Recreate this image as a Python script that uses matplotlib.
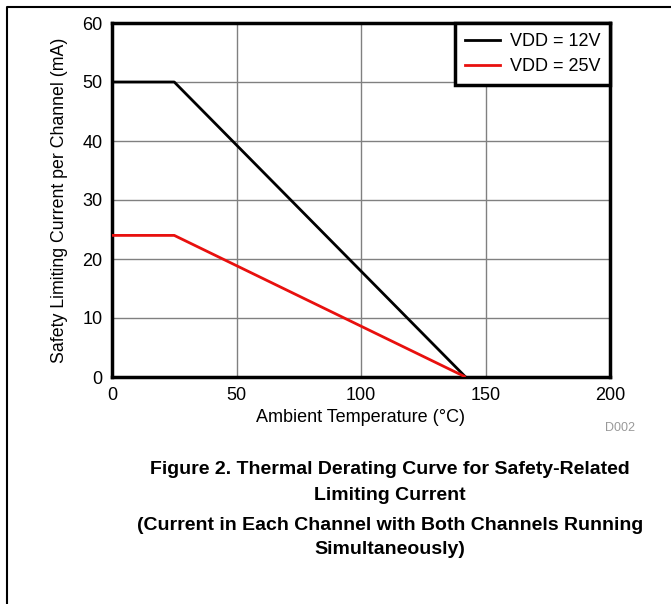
import matplotlib.pyplot as plt
from matplotlib.lines import Line2D

plt.rcParams['font.family'] = ['Liberation Sans', 'DejaVu Sans']

# Derating curves (temperature in degC, current in mA)
temp_12v = [0, 25, 142]
current_12v = [50, 50, 0]
temp_25v = [0, 25, 142]
current_25v = [24, 24, 0]

series_labels = ["VDD = 12V", "VDD = 25V"]
series_colors = ["black", "#e8100e"]

x_ticks = [0, 50, 100, 150, 200]
y_ticks = [0, 10, 20, 30, 40, 50, 60]

caption_lines = [
    "Figure 2. Thermal Derating Curve for Safety-Related",
    "Limiting Current",
    "(Current in Each Channel with Both Channels Running",
    "Simultaneously)",
]

fig = plt.figure(figsize=(6.71, 6.04), dpi=100)
ax = fig.add_axes([112 / 671, 1 - 377 / 604, (610 - 112) / 671, (377 - 23) / 604])

ax.plot(temp_12v, current_12v, color=series_colors[0], lw=2, solid_capstyle='butt', zorder=3)
ax.plot(temp_25v, current_25v, color=series_colors[1], lw=2, solid_capstyle='butt', zorder=3)

ax.set_xlim(0, 200)
ax.set_ylim(0, 60)
ax.set_xticks(x_ticks)
ax.set_yticks(y_ticks)
ax.tick_params(length=0, labelsize=13, pad=7, colors='black')
ax.grid(True, color='#808080', lw=1)
ax.set_axisbelow(True)
for s in ax.spines.values():
    s.set_linewidth(2.5)

ax.set_xlabel("Ambient Temperature (°C)", fontsize=13, labelpad=4)
ax.set_ylabel("Safety Limiting Current per Channel (mA)", fontsize=12.8, labelpad=10)

handles = [Line2D([], [], color=c, lw=2) for c in series_colors]
leg = ax.legend(handles, series_labels, loc='upper right', fontsize=13,
                frameon=True, fancybox=False, borderaxespad=0,
                handlelength=1.9, handletextpad=0.55, labelspacing=0.45,
                borderpad=0.55)
leg.get_frame().set_edgecolor('black')
leg.get_frame().set_linewidth(2.5)
leg.get_frame().set_alpha(1)

fig.text(620 / 671, 1 - 428 / 604, "D002", fontsize=9, color='#999999',
         ha='center', va='center')

caption_y = [470, 495, 525, 549]
for txt, y in zip(caption_lines, caption_y):
    fig.text(390 / 671, 1 - y / 604, txt, fontsize=14, fontweight='bold',
             ha='center', va='center')

# document frame (top and left edges)
fig.add_artist(Line2D([7 / 671, 7 / 671, 1], [0, 1 - 7 / 604, 1 - 7 / 604],
                      transform=fig.transFigure, color='black', lw=1.5))

fig.savefig("out.png", dpi=100)
